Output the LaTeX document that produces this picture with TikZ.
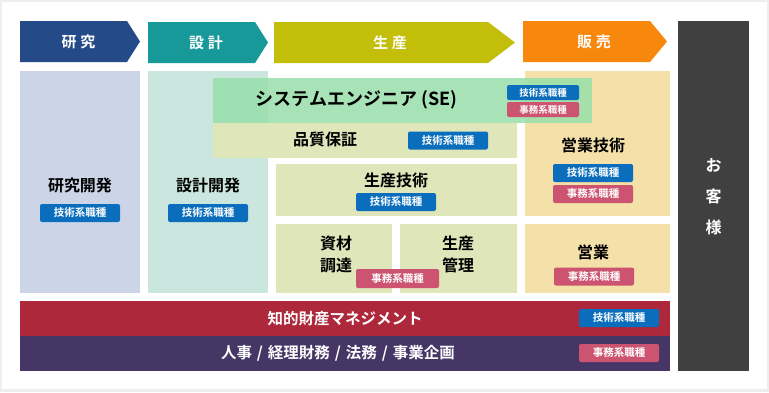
\documentclass[tikz,border=0pt]{standalone}
\usepackage{fontspec}
\setmainfont{Noto Sans CJK JP}[BoldFont={Noto Sans CJK JP Bold}]
\definecolor{resnavy}{RGB}{36,75,135}
\definecolor{desteal}{RGB}{23,153,154}
\definecolor{prodolive}{RGB}{194,190,10}
\definecolor{salesorange}{RGB}{247,135,13}
\definecolor{reslight}{RGB}{204,213,232}
\definecolor{deslight}{RGB}{203,230,222}
\definecolor{prodlight}{RGB}{223,230,186}
\definecolor{saleslight}{RGB}{244,224,169}
\definecolor{segreen}{RGB}{152,223,171}
\definecolor{custgray}{RGB}{64,64,64}
\definecolor{ipred}{RGB}{174,40,59}
\definecolor{adminpurple}{RGB}{69,54,101}
\definecolor{techblue}{RGB}{10,110,189}
\definecolor{officepink}{RGB}{204,84,112}
\definecolor{framegray}{RGB}{238,238,238}
\newcommand{\fsz}[1]{\fontsize{#1}{#1}\selectfont}
\newcommand{\sep}{\hspace{5pt}/\hspace{5pt}}

\begin{document}
\begin{tikzpicture}[
    x=1pt, y=-1pt,
    phaselbl/.style={inner sep=0pt, text=white, font=\fsz{15}\bfseries},
    area/.style={anchor=north west, inner sep=0pt, outer sep=0pt},
    title/.style={font=\fsz{16}\bfseries, align=center, inner sep=0pt},
    badge/.style={rounded corners=2pt, minimum width=80pt, minimum height=18pt, inner sep=0pt, text=white, font=\fsz{10.5}\bfseries},
    smallbadge/.style={badge, minimum width=72pt, minimum height=15pt, font=\fsz{9.5}\bfseries},
    tech/.style={fill=techblue},
    office/.style={fill=officepink}
]
\useasboundingbox (0,0) rectangle (769,392);
\fill[framegray] (0,0) rectangle (769,392);
\fill[white] (2,2) rectangle (767,389);

% phases
\fill[resnavy] (20,21) -- (127,21) -- (140,41.5) -- (127,62) -- (20,62) -- cycle;
\fill[desteal] (148,22) -- (255,22) -- (268,42.5) -- (255,63) -- (148,63) -- cycle;
\fill[prodolive] (274,22) -- (488,22) -- (515,42.5) -- (488,63) -- (274,63) -- cycle;
\fill[salesorange] (523,21) -- (650,21) -- (667,41.5) -- (650,62) -- (523,62) -- cycle;
\node[phaselbl] (research) at (78.5,42) {研\hspace{4pt}究};
\node[phaselbl] (design) at (206,42.5) {設\hspace{4pt}計};
\node[phaselbl] (production) at (390,42.5) {生\hspace{4pt}産};
\node[phaselbl] (sales) at (594,41.5) {販\hspace{4pt}売};

% customer
\node[area, fill=custgray, minimum width=71pt, minimum height=350pt] (customer) at (678,21) {};
\node[title, text=white] (customerlbl) at (713.5,196.5) {お\\[15pt]客\\[15pt]様};

% columns
\node[area, fill=reslight, minimum width=120pt, minimum height=222pt] (resbox) at (20,71) {};
\node[area, fill=deslight, minimum width=120pt, minimum height=222pt] (desbox) at (148,71) {};
\node[area, fill=prodlight, minimum width=304pt, minimum height=35pt] (qabox) at (213,123) {};
\node[area, fill=prodlight, minimum width=241pt, minimum height=52pt] (prodtechbox) at (276,164) {};
\node[area, fill=prodlight, minimum width=116pt, minimum height=69pt] (matbox) at (276,224) {};
\node[area, fill=prodlight, minimum width=117pt, minimum height=69pt] (ctrlbox) at (400,224) {};
\node[area, fill=saleslight, minimum width=145pt, minimum height=145pt] (salestechbox) at (525,71) {};
\node[area, fill=saleslight, minimum width=145pt, minimum height=69pt] (salesbox) at (525,224) {};
\node[area, fill=segreen, fill opacity=0.85, minimum width=379pt, minimum height=45pt] (sebox) at (213,78) {};

% bands
\node[area, fill=ipred, minimum width=650pt, minimum height=35pt] (ipband) at (20,301) {};
\node[area, fill=adminpurple, minimum width=650pt, minimum height=35pt] (adminband) at (20,336) {};

% labels
\node[title] (reslbl) at (80,185) {研究開発};
\node[title] (deslbl) at (208,185) {設計開発};
\node[title, font=\fsz{18}\bfseries] (selbl) at (356.5,99.5) {システムエンジニア (SE)};
\node[title] (qalbl) at (325,139.5) {品質保証};
\node[title] (prodtechlbl) at (396,180) {生産技術};
\node[title] (matlbl) at (336,254) {資材\\[6pt]調達};
\node[title] (ctrllbl) at (458,254) {生産\\[6pt]管理};
\node[title] (salestechlbl) at (593,145) {営業技術};
\node[title] (saleslbl) at (593,252) {営業};
\node[title, text=white, font=\fsz{15.5}\bfseries] (iplbl) at (345,318.5) {知的財産マネジメント};
\node[title, text=white, font=\fsz{15.5}\bfseries] (adminlbl) at (338,353.5) {人事\sep 経理財務\sep 法務\sep 事業企画};

% job badges
\node[badge, tech] (resbadge) at (80,213) {技術系職種};
\node[badge, tech] (desbadge) at (208,213) {技術系職種};
\node[smallbadge, tech] (setech) at (543,92.5) {技術系職種};
\node[smallbadge, office] (seoffice) at (543,109.5) {事務系職種};
\node[badge, tech] (qabadge) at (448,140.5) {技術系職種};
\node[badge, tech] (prodtechbadge) at (396,202) {技術系職種};
\node[badge, office, minimum width=83pt, minimum height=19pt] (matbadge) at (397.5,278.5) {事務系職種};
\node[badge, tech] (salestechtech) at (593,173) {技術系職種};
\node[badge, office] (salestechoffice) at (593,194) {事務系職種};
\node[badge, office] (salesbadge) at (594,276.5) {事務系職種};
\node[badge, tech] (ipbadge) at (619,318) {技術系職種};
\node[badge, office] (adminbadge) at (619,353) {事務系職種};
\end{tikzpicture}
\end{document}
